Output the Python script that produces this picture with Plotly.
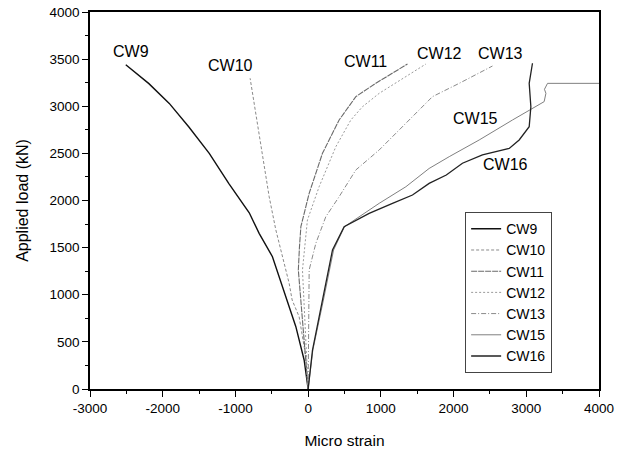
import plotly.graph_objects as go

# ---- data (micro strain, applied load kN) ----
cw9_x = [0, -55, -169, -307, -491, -674, -810, -1090, -1360, -1640, -1910, -2190, -2508]
cw9_y = [0, 308, 661, 979, 1404, 1652, 1870, 2180, 2500, 2780, 3030, 3240, 3440]

cw10_x = [0, -32, -124, -220, -261, -445, -536, -628, -720, -798]
cw10_y = [0, 343, 767, 944, 1121, 1690, 2040, 2465, 2889, 3297]

cw11_x = [0, -40, -100, -135, -120, -100, 14, 197, 426, 656, 931, 1366]
cw11_y = [0, 400, 944, 1263, 1500, 1722, 2076, 2501, 2854, 3102, 3244, 3448]

cw12_x = [0, -55, -78, -10, 151, 381, 587, 747, 977, 1619]
cw12_y = [0, 944, 1263, 1793, 2146, 2571, 2854, 2995, 3137, 3448]

cw13_x = [0, 10, 14, 106, 243, 426, 656, 977, 1389, 1710, 2077, 2535]
cw13_y = [0, 944, 1263, 1546, 1828, 2040, 2324, 2536, 2854, 3102, 3243, 3427]

cw15_x = [0, 65, 210, 350, 500, 977, 1344, 1664, 1940, 2352, 2810, 3085, 3246, 3270, 3250, 3292, 4000]
cw15_y = [0, 414, 944, 1475, 1722, 1970, 2146, 2340, 2465, 2642, 2854, 2977, 3049, 3137, 3180, 3243, 3243]

cw16_x = [0, 60, 197, 335, 495, 839, 1160, 1435, 1664, 1900, 2122, 2397, 2765, 2902, 3040, 3063, 3040, 3085]
cw16_y = [0, 414, 944, 1475, 1722, 1864, 1970, 2058, 2182, 2270, 2395, 2483, 2553, 2642, 2783, 2995, 3243, 3456]

names = ["CW9", "CW10", "CW11", "CW12", "CW13", "CW15", "CW16"]
xs = [cw9_x, cw10_x, cw11_x, cw12_x, cw13_x, cw15_x, cw16_x]
ys = [cw9_y, cw10_y, cw11_y, cw12_y, cw13_y, cw15_y, cw16_y]

# label positions (data coords)
label_text = ["CW9", "CW10", "CW11", "CW12", "CW13", "CW15", "CW16"]
label_x = [-2440, -1063, 794, 1802, 2650, 2307, 2719]
label_y = [3580, 3430, 3473, 3562, 3562, 2872, 2377]

x_ticks = [-3000, -2000, -1000, 0, 1000, 2000, 3000, 4000]
x_ticktext = ["-3000", "-2000", "-1000", "0", "1000", "2000", "3000", "4000"]
y_ticks = [0, 500, 1000, 1500, 2000, 2500, 3000, 3500, 4000]

styles = [
    dict(color="#111111", width=1.4, dash="solid"),
    dict(color="#8a8a8a", width=1.0, dash="3px,2px"),
    dict(color="#6a6a6a", width=1.1, dash="6px,1px"),
    dict(color="#9a9a9a", width=1.0, dash="2px,2px"),
    dict(color="#8a8a8a", width=1.0, dash="5px,2px,1px,2px"),
    dict(color="#808080", width=1.0, dash="solid"),
    dict(color="#222222", width=1.3, dash="solid"),
]

FONT = "Liberation Sans, Arial, sans-serif"

fig = go.Figure()
for n, x, y, s in zip(names, xs, ys, styles):
    fig.add_trace(go.Scatter(x=x, y=y, mode="lines", name=n, line=s))

for t, x, y in zip(label_text, label_x, label_y):
    fig.add_annotation(x=x, y=y, text=t, showarrow=False,
                       font=dict(family=FONT, size=16, color="black"))

fig.update_layout(
    width=627, height=450,
    margin=dict(l=90, r=28, t=12, b=61),
    paper_bgcolor="white", plot_bgcolor="white",
    font=dict(family=FONT, size=14, color="black"),
    showlegend=True,
    legend=dict(x=0.737, y=0.469, xanchor="left", yanchor="top",
                bordercolor="#444444", borderwidth=1, bgcolor="white",
                font=dict(family=FONT, size=14, color="black"),
                tracegroupgap=0, itemwidth=30),
)

fig.update_xaxes(
    range=[-3000, 4000], tickvals=x_ticks, ticktext=x_ticktext,
    ticks="outside", ticklen=6, tickwidth=1.2, tickcolor="black",
    minor=dict(tickvals=[-2500, -1500, -500, 500, 1500, 2500, 3500],
               ticks="outside", ticklen=3, tickcolor="black"),
    showline=True, linecolor="black", linewidth=1.5, mirror=True,
    showgrid=False, zeroline=False, automargin=False,
    tickfont=dict(size=13.5),
    title=dict(text="Micro strain", font=dict(size=15.5), standoff=20),
)
fig.update_yaxes(
    range=[0, 4000], tickvals=y_ticks,
    ticks="outside", ticklen=6, tickwidth=1.2, tickcolor="black",
    minor=dict(tickvals=[250, 750, 1250, 1750, 2250, 2750, 3250, 3750],
               ticks="outside", ticklen=3, tickcolor="black"),
    showline=True, linecolor="black", linewidth=1.5, mirror=True,
    showgrid=False, zeroline=False, automargin=False,
    tickfont=dict(size=13.5),
    title=dict(text="Applied load (kN)", font=dict(size=16), standoff=17),
)

fig.write_html("out.html")
